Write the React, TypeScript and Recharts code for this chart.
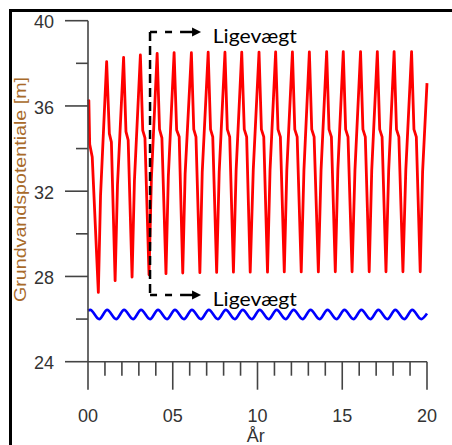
import React from 'react';
import { LineChart, Line, XAxis, YAxis, ReferenceLine, ReferenceDot } from 'recharts';

// Red series: groundwater potential (m) — times in years
const redTimes = [
  0, 0.05, 0.1, 0.25, 0.61, 0.74, 1.1,
  1.26, 1.38, 1.6, 1.74, 2.1,
  2.24, 2.37, 2.6, 2.74, 3.09,
  3.23, 3.36, 3.6, 3.74, 4.08,
  4.22, 4.36, 4.6, 4.74, 5.08,
  5.23, 5.38, 5.59, 5.73, 6.1,
  6.24, 6.37, 6.6, 6.74, 7.09,
  7.23, 7.36, 7.59, 7.74, 8.08,
  8.22, 8.36, 8.58, 8.74, 9.07,
  9.22, 9.36, 9.57, 9.75, 10.09,
  10.23, 10.37, 10.59, 10.74, 11.07,
  11.21, 11.35, 11.58, 11.73, 12.06,
  12.2, 12.34, 12.58, 12.74, 13.06,
  13.2, 13.34, 13.59, 13.75, 14.08,
  14.22, 14.36, 14.59, 14.74, 15.06,
  15.2, 15.34, 15.58, 15.75, 16.08,
  16.22, 16.36, 16.59, 16.74, 17.07,
  17.21, 17.35, 17.58, 17.74, 18.06,
  18.2, 18.34, 18.58, 18.75, 19.09,
  19.23, 19.37, 19.6, 19.74, 20,
];
const redValues = [
  36.2, 36.25, 34.2, 33.6, 27.25, 31.8, 38.08,
  34.7, 34.3, 27.8, 32.3, 38.28,
  34.8, 34.4, 27.97, 32.5, 38.39,
  34.85, 34.5, 28.08, 32.6, 38.47,
  34.9, 34.5, 28.13, 32.7, 38.5,
  34.87, 34.55, 28.16, 32.8, 38.5,
  34.9, 34.55, 28.18, 32.9, 38.52,
  34.9, 34.55, 28.19, 32.9, 38.52,
  34.9, 34.55, 28.2, 33.0, 38.53,
  34.9, 34.55, 28.2, 33.0, 38.53,
  34.9, 34.55, 28.2, 33.0, 38.54,
  34.9, 34.55, 28.21, 33.0, 38.54,
  34.9, 34.55, 28.21, 33.0, 38.54,
  34.9, 34.55, 28.21, 33.0, 38.55,
  34.9, 34.55, 28.22, 33.0, 38.55,
  34.9, 34.55, 28.22, 33.0, 38.55,
  34.9, 34.55, 28.22, 33.0, 38.55,
  34.9, 34.55, 28.22, 33.0, 38.55,
  34.9, 34.55, 28.22, 33.0, 38.55,
  34.9, 34.55, 28.22, 32.9, 37.07,
];

// Blue series
const blueTimes = [
  0, 0.13, 0.66, 1.13, 1.66, 2.13, 2.66, 3.13, 3.66, 4.13, 4.66,
  5.13, 5.66, 6.13, 6.66, 7.13, 7.66, 8.13, 8.66, 9.13, 9.66,
  10.13, 10.66, 11.13, 11.66, 12.13, 12.66, 13.13, 13.66, 14.13, 14.66,
  15.13, 15.66, 16.13, 16.66, 17.13, 17.66, 18.13, 18.66, 19.13, 19.66, 20,
];
const blueValues = [
  26.4, 26.43, 26.0, 26.43, 26.0, 26.43, 26.0, 26.43, 26.0, 26.43, 26.0,
  26.43, 26.0, 26.43, 26.0, 26.43, 26.0, 26.43, 26.0, 26.43, 26.0,
  26.43, 26.0, 26.43, 26.0, 26.43, 26.0, 26.43, 26.0, 26.43, 26.0,
  26.43, 26.0, 26.43, 26.0, 26.43, 26.0, 26.43, 26.0, 26.43, 26.0, 26.26,
];

// Axes
const xTicks = [0, 1, 2, 3, 4, 5, 6, 7, 8, 9, 10, 11, 12, 13, 14, 15, 16, 17, 18, 19, 20];
const xMajorTicks = [0, 5, 10, 15, 20];
const xMajorLabels = ['00', '05', '10', '15', '20'];
const yTicks = [24, 26, 28, 30, 32, 34, 36, 38, 40];
const yMajorTicks = [24, 28, 32, 36, 40];
const yMajorLabels = ['24', '28', '32', '36', '40'];
const xAxisTitle = 'År';
const yAxisTitle = 'Grundvandspotentiale [m]';

// Annotation ("Ligevægt") in data coordinates
const annotText = 'Ligevægt';
const annotX = 3.66;
const annotTopY = 39.47;
const annotBottomY = 27.13;
const annotDashEndX = 4.96;
const annotArrowTipX = 6.67;

const redData = redTimes.map((t, i) => ({ t, v: redValues[i] }));
const blueData = blueTimes.map((t, i) => ({ t, v: blueValues[i] }));

const AXIS = '#444';
const TICK_FONT = '"Liberation Sans Narrow", "Liberation Sans", Arial, sans-serif';

const XTick = (props: any) => {
  const { x, y, payload } = props;
  const i = xMajorTicks.indexOf(payload.value);
  const major = i >= 0;
  return (
    <g>
      <line x1={x} x2={x} y1={y} y2={y + (major ? 28 : 14)} stroke={AXIS} strokeWidth={1.6} />
      {major && (
        <text x={x} y={y + 60} textAnchor="middle" fontSize={18} fontFamily={TICK_FONT} fill="#333">
          {xMajorLabels[i]}
        </text>
      )}
    </g>
  );
};

const YTick = (props: any) => {
  const { x, y, payload } = props;
  const i = yMajorTicks.indexOf(payload.value);
  const major = i >= 0;
  return (
    <g>
      <line x1={x - (major ? 23 : 12)} x2={x} y1={y} y2={y} stroke={AXIS} strokeWidth={1.6} />
      {major && (
        <text x={x - 34} y={y + 7.6} textAnchor="end" fontSize={18} fontFamily={TICK_FONT} fill="#333">
          {yMajorLabels[i]}
        </text>
      )}
    </g>
  );
};

const YLabel = () => (
  <text
    x={26}
    y={189.5}
    transform="rotate(-90, 26, 189.5)"
    textAnchor="middle"
    fontSize={16}
    fontFamily='"Liberation Sans", Arial, sans-serif'
    fill="#a86a2a"
    textLength={225}
    lengthAdjust="spacingAndGlyphs"
  >
    {yAxisTitle}
  </text>
);

const XLabel = () => (
  <text x={246.7} y={442} fontSize={18} fontFamily={TICK_FONT} fill="#333">
    {xAxisTitle}
  </text>
);

const ArrowLabel = (props: any) => {
  const { cx, cy } = props;
  return (
    <g>
      <line x1={cx - 21} x2={cx - 7} y1={cy} y2={cy} stroke="#000" strokeWidth={2.5} />
      <polygon points={`${cx},${cy} ${cx - 9},${cy - 4.5} ${cx - 9},${cy + 4.5}`} fill="#000" />
      <text
        x={cx + 11.7}
        y={cy + 10.7}
        fontSize={20}
        fontFamily='Lato, "Open Sans", sans-serif'
        fill="#000"
        textLength={84}
        lengthAdjust="spacingAndGlyphs"
      >
        {annotText}
      </text>
    </g>
  );
};

export default function App() {
  return (
    <div style={{ position: 'fixed', left: 0, top: 0, width: 452, height: 445, overflow: 'hidden', background: '#fff' }}>
      <div
        style={{
          position: 'absolute',
          left: 9,
          top: 9,
          width: 443,
          height: 436,
          boxSizing: 'border-box',
          borderLeft: '3px solid #000',
          borderTop: '3px solid #000',
        }}
      />
      <div style={{ position: 'absolute', left: 0, top: 0 }}>
        <LineChart width={452} height={445} margin={{ top: 20.7, right: 25, bottom: 33.3, left: 28 }}>
          <XAxis
            dataKey="t"
            type="number"
            domain={[0, 20]}
            ticks={xTicks}
            interval={0}
            tick={<XTick />}
            tickSize={0}
            tickMargin={0}
            tickLine={false}
            axisLine={{ stroke: AXIS, strokeWidth: 1.6 }}
            height={50}
            label={<XLabel />}
          />
          <YAxis
            type="number"
            domain={[24, 40]}
            ticks={yTicks}
            interval={0}
            tick={<YTick />}
            tickSize={0}
            tickMargin={0}
            tickLine={false}
            axisLine={{ stroke: AXIS, strokeWidth: 1.6 }}
            width={60}
            label={<YLabel />}
          />
          <Line data={blueData} dataKey="v" type="monotone" stroke="#0000ff" strokeWidth={2.6} dot={false} isAnimationActive={false} />
          <Line data={redData} dataKey="v" type="linear" stroke="#ff0000" strokeWidth={2.8} strokeLinejoin="round" dot={false} isAnimationActive={false} />
          <ReferenceLine
            segment={[{ x: annotX, y: annotTopY }, { x: annotX, y: annotBottomY }]}
            stroke="#000"
            strokeWidth={2.5}
            strokeDasharray="9 5"
          />
          <ReferenceLine
            segment={[{ x: annotX, y: annotTopY }, { x: annotDashEndX, y: annotTopY }]}
            stroke="#000"
            strokeWidth={2.5}
            strokeDasharray="7 8"
          />
          <ReferenceLine
            segment={[{ x: annotX, y: annotBottomY }, { x: annotDashEndX, y: annotBottomY }]}
            stroke="#000"
            strokeWidth={2.5}
            strokeDasharray="7 8"
          />
          <ReferenceDot x={annotArrowTipX} y={annotTopY} shape={(p: any) => <ArrowLabel {...p} />} />
          <ReferenceDot x={annotArrowTipX} y={annotBottomY} shape={(p: any) => <ArrowLabel {...p} />} />
        </LineChart>
      </div>
    </div>
  );
}
